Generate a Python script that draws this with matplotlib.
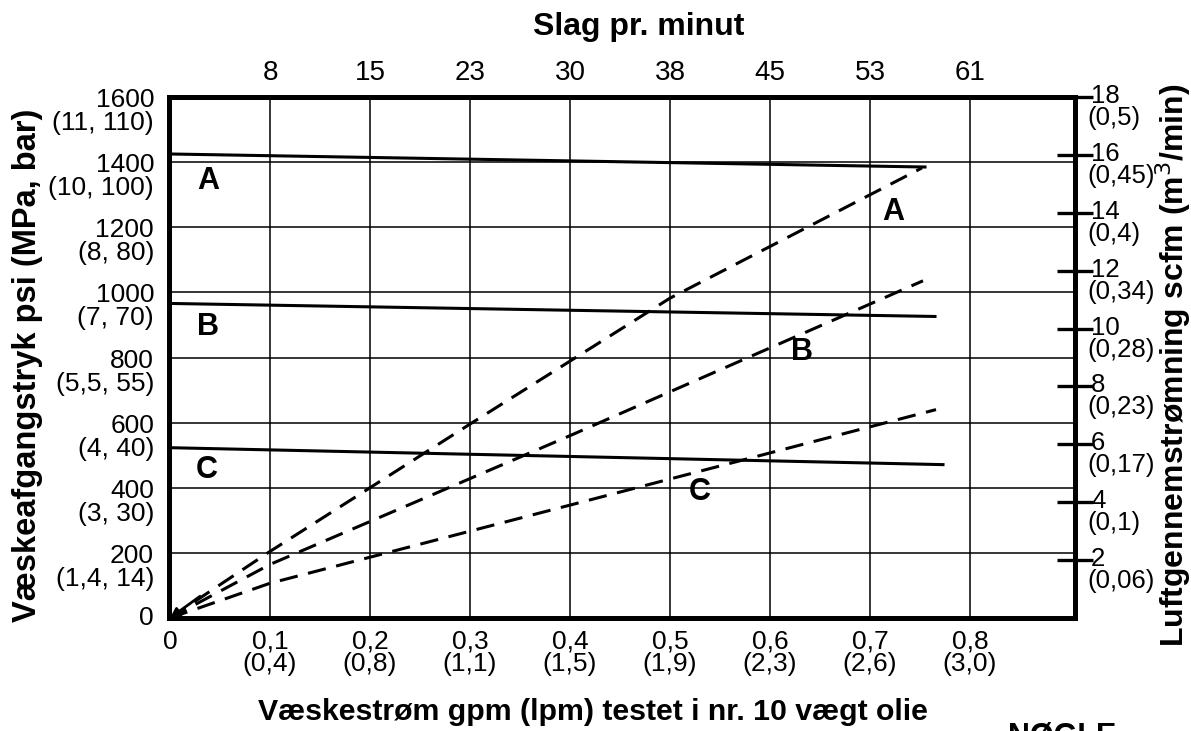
import matplotlib.pyplot as plt

plt.rcParams['font.family'] = ['Liberation Sans', 'DejaVu Sans']

# Flow axis (gpm) with lpm and strokes per minute
flow_ticks = [0.1, 0.2, 0.3, 0.4, 0.5, 0.6, 0.7, 0.8]
flow_gpm_labels = ['0,1', '0,2', '0,3', '0,4', '0,5', '0,6', '0,7', '0,8']
flow_lpm_labels = ['(0,4)', '(0,8)', '(1,1)', '(1,5)', '(1,9)', '(2,3)', '(2,6)', '(3,0)']
stroke_labels = ['8', '15', '23', '30', '38', '45', '53', '61']

# Fluid pressure axis
psi_ticks = [0, 200, 400, 600, 800, 1000, 1200, 1400, 1600]
psi_labels = ['0', '200', '400', '600', '800', '1000', '1200', '1400', '1600']
mpa_bar_labels = ['', '(1,4, 14)', '(3, 30)', '(4, 40)', '(5,5, 55)', '(7, 70)',
                  '(8, 80)', '(10, 100)', '(11, 110)']

# Air consumption axis
scfm_ticks = [2, 4, 6, 8, 10, 12, 14, 16, 18]
scfm_labels = ['2', '4', '6', '8', '10', '12', '14', '16', '18']
m3min_labels = ['(0,06)', '(0,1)', '(0,17)', '(0,23)', '(0,28)', '(0,34)',
                '(0,4)', '(0,45)', '(0,5)']

# Fluid outlet pressure curves (psi)
a_flow = [0, 0.755]
a_psi = [1425, 1385]
b_flow = [0, 0.765]
b_psi = [966, 926]
c_flow = [0, 0.773]
c_psi = [523, 471]

# Air consumption curves (scfm)
a_air_flow = [0, 0.1, 0.3, 0.5, 0.752]
a_air_scfm = [0, 2.3, 6.7, 11.05, 15.55]
b_air_flow = [0, 0.1, 0.4, 0.753]
b_air_scfm = [0, 1.85, 6.3, 11.65]
c_air_flow = [0, 0.1, 0.4, 0.766]
c_air_scfm = [0, 1.2, 3.9, 7.2]

fig = plt.figure(figsize=(11.91, 7.31), dpi=100)
ax = fig.add_axes([169 / 1191, 113 / 731, 906 / 1191, 521 / 731])
ax2 = ax.twinx()

ax.set_xlim(-0.001, 0.905)
ax.set_ylim(0, 1600)
ax2.set_ylim(0, 18)

# grid
for x in flow_ticks:
    ax.axvline(x, color='black', linewidth=1.1, zorder=1)
for y in psi_ticks[1:-1]:
    ax.axhline(y, color='black', linewidth=1.1, zorder=1)

ax.set_xticks([])
ax.set_yticks([])
for side in ['left', 'right', 'top', 'bottom']:
    ax.spines[side].set_linewidth(3.6)
    ax2.spines[side].set_linewidth(3.6)

# pressure lines
ax.plot(a_flow, a_psi, color='black', linewidth=2.2, zorder=3)
ax.plot(b_flow, b_psi, color='black', linewidth=2.2, zorder=3)
ax.plot(c_flow, c_psi, color='black', linewidth=2.2, zorder=3)

# air consumption lines
for fx, fy in [(a_air_flow, a_air_scfm), (b_air_flow, b_air_scfm), (c_air_flow, c_air_scfm)]:
    ax2.plot(fx, fy, color='black', linewidth=2.2, linestyle=(0, (6, 3.5)))
ax2.annotate('', xy=(0.0, 0.0), xytext=(0.03, 0.75),
             arrowprops=dict(arrowstyle='-|>', color='black', lw=2,
                             mutation_scale=14, shrinkA=0, shrinkB=0))

# curve letters
bold = dict(fontsize=22, fontweight='bold', ha='center', va='center')
ax.text(0.038, 1342, 'A', **bold)
ax.text(0.038, 894, 'B', **bold)
ax.text(0.037, 455, 'C', **bold)
ax.text(0.723, 1247, 'A', **bold)
ax.text(0.632, 817, 'B', **bold)
ax.text(0.530, 387, 'C', **bold)

# left tick labels
for v, lab, sub in zip(psi_ticks, psi_labels, mpa_bar_labels):
    ax.annotate(lab, xy=(0, v), xycoords=('axes fraction', 'data'),
                xytext=(-15, -3 if sub else 0), textcoords='offset pixels',
                ha='right', va='center', fontsize=19)
    if sub:
        ax.annotate(sub, xy=(0, v), xycoords=('axes fraction', 'data'),
                    xytext=(-15, -26), textcoords='offset pixels',
                    ha='right', va='center', fontsize=19)

# bottom tick labels
ax.annotate('0', xy=(0, 0), xycoords=('data', 'axes fraction'),
            xytext=(0, -24), textcoords='offset pixels',
            ha='center', va='center', fontsize=19)
for x, lab, sub in zip(flow_ticks, flow_gpm_labels, flow_lpm_labels):
    ax.annotate(lab, xy=(x, 0), xycoords=('data', 'axes fraction'),
                xytext=(0, -23), textcoords='offset pixels',
                ha='center', va='center', fontsize=19)
    ax.annotate(sub, xy=(x, 0), xycoords=('data', 'axes fraction'),
                xytext=(0, -46), textcoords='offset pixels',
                ha='center', va='center', fontsize=19)

# top tick labels (strokes per minute)
for x, lab in zip(flow_ticks, stroke_labels):
    ax.annotate(lab, xy=(x, 1), xycoords=('data', 'axes fraction'),
                xytext=(0, 17), textcoords='offset pixels',
                ha='center', va='baseline', fontsize=20)

# right axis ticks and labels
ax2.set_yticks(scfm_ticks)
ax2.set_yticklabels([])
ax2.tick_params(axis='y', direction='inout', length=26, width=2.4, color='black')
for v, lab, sub in zip(scfm_ticks, scfm_labels, m3min_labels):
    ax2.annotate(lab, xy=(1, v), xycoords=('axes fraction', 'data'),
                 xytext=(16, 1), textcoords='offset pixels',
                 ha='left', va='center', fontsize=18.5)
    ax2.annotate(sub, xy=(1, v), xycoords=('axes fraction', 'data'),
                 xytext=(12, -21), textcoords='offset pixels',
                 ha='left', va='center', fontsize=18.5)

# axis titles
fig.text(28 / 1191, 1 - 365 / 731, 'Væskeafgangstryk psi (MPa, bar)', rotation=90,
         ha='center', va='center', fontsize=23.5, fontweight='bold')
fig.text(1173 / 1191, 1 - 365 / 731, 'Luftgennemstrømning scfm (m$^3$/min)', rotation=90,
         ha='center', va='center', fontsize=23, fontweight='bold')
fig.text(593 / 1191, 1 - 720 / 731, 'Væskestrøm gpm (lpm) testet i nr. 10 vægt olie',
         ha='center', va='baseline', fontsize=21.8, fontweight='bold')
fig.text(639 / 1191, 1 - 35 / 731, 'Slag pr. minut',
         ha='center', va='baseline', fontsize=23, fontweight='bold')
fig.text(1008 / 1191, 1 - 745 / 731, 'NØGLE',
         ha='left', va='baseline', fontsize=22, fontweight='bold')

fig.savefig('out.png', dpi=100)
